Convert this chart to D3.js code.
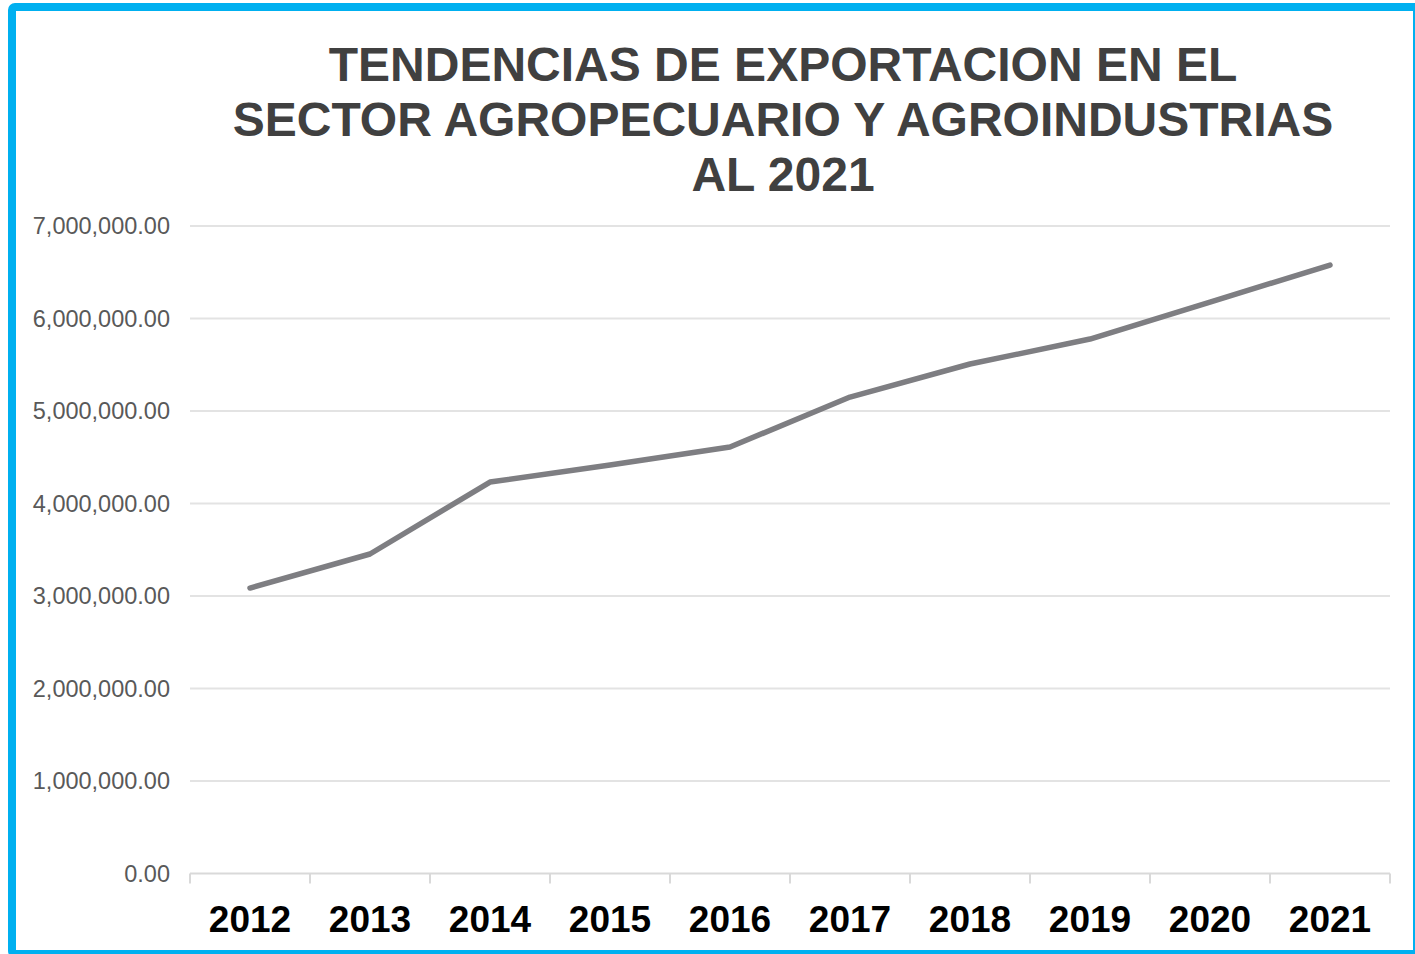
<!DOCTYPE html>
<html>
<head>
<meta charset="utf-8">
<script src="https://cdn.jsdelivr.net/npm/d3@7"></script>
<style>
  body { margin: 0; background: #fff; }
  svg { display: block; font-family: "Liberation Sans", Arial, sans-serif; }
</style>
</head>
<body>
<div id="chart"></div>
<script>
const width = 1415,
height = 954,
margin = ({ top: 226, right: 25, bottom: 80, left: 190 });

const years = ["2012", "2013", "2014", "2015", "2016", "2017", "2018", "2019", "2020", "2021"];
const exports = [3086000, 3454000, 4232000, 4416000, 4611000, 5151000, 5508000, 5778000, 6178000, 6578000];
const yTicks = [0, 1000000, 2000000, 3000000, 4000000, 5000000, 6000000, 7000000];
const titleLines = ["TENDENCIAS DE EXPORTACION EN EL", "SECTOR AGROPECUARIO Y AGROINDUSTRIAS", "AL 2021"];

const data = years.map((y, i) => ({ year: y, value: exports[i] }));

const svg = d3.select("#chart")
.append("svg")
.attr("width", width)
.attr("height", height);

// cyan frame
svg.append("rect")
    .attr("x", 12)
    .attr("y", 7)
    .attr("width", 1405)
    .attr("height", 947)
    .attr("rx", 3)
    .attr("fill", "#fff")
    .attr("stroke", "#00B0F0")
    .attr("stroke-width", 8);

const x = d3.scaleBand()
    .domain(years)
    .range([190, 1390]);

const y = d3.scaleLinear()
    .domain([0, 7000000])
    .range([873.5, 226]);

// gridlines
svg.append("g")
    .selectAll("line")
    .data(yTicks)
    .join("line")
    .attr("x1", 190)
    .attr("x2", 1390)
    .attr("y1", d => y(d))
    .attr("y2", d => y(d))
    .attr("stroke", d => d === 0 ? "#D9D9D9" : "#E3E3E3")
    .attr("stroke-width", 2);

// y labels
svg.append("g")
    .attr("text-anchor", "end")
    .selectAll("text")
    .data(yTicks)
    .join("text")
    .attr("x", 170)
    .attr("y", d => y(d))
    .attr("dy", "0.36em")
    .attr("font-size", 23.5)
    .attr("fill", "#595959")
    .text(d => d3.format(",.2f")(d));

// x axis ticks
const boundaries = years.map(d => x(d)).concat([x.range()[1]]);
svg.append("g")
    .selectAll("line")
    .data(boundaries)
    .join("line")
    .attr("x1", d => d)
    .attr("x2", d => d)
    .attr("y1", y(0))
    .attr("y2", y(0) + 10)
    .attr("stroke", "#D9D9D9")
    .attr("stroke-width", 2);

svg.append("g")
    .attr("text-anchor", "middle")
    .selectAll("text")
    .data(years)
    .join("text")
    .attr("x", d => x(d) + x.bandwidth() / 2)
    .attr("y", 932)
    .attr("font-size", 37)
    .attr("font-weight", "bold")
    .attr("fill", "#000")
    .text(d => d);

// line
const line = d3.line()
    .x(d => x(d.year) + x.bandwidth() / 2)
    .y(d => y(d.value));

svg.append("path")
    .datum(data)
    .attr("fill", "none")
    .attr("stroke", "#7E7E82")
    .attr("stroke-width", 5.5)
    .attr("stroke-linecap", "round")
    .attr("stroke-linejoin", "round")
    .attr("d", line);

// title
svg.append("text")
    .attr("text-anchor", "middle")
    .attr("font-size", 48)
    .attr("font-weight", "bold")
    .attr("fill", "#404040")
    .selectAll("tspan")
    .data(titleLines)
    .join("tspan")
    .attr("x", 783)
    .attr("y", (d, i) => 81 + i * 55)
    .text(d => d);
</script>
</body>
</html>
